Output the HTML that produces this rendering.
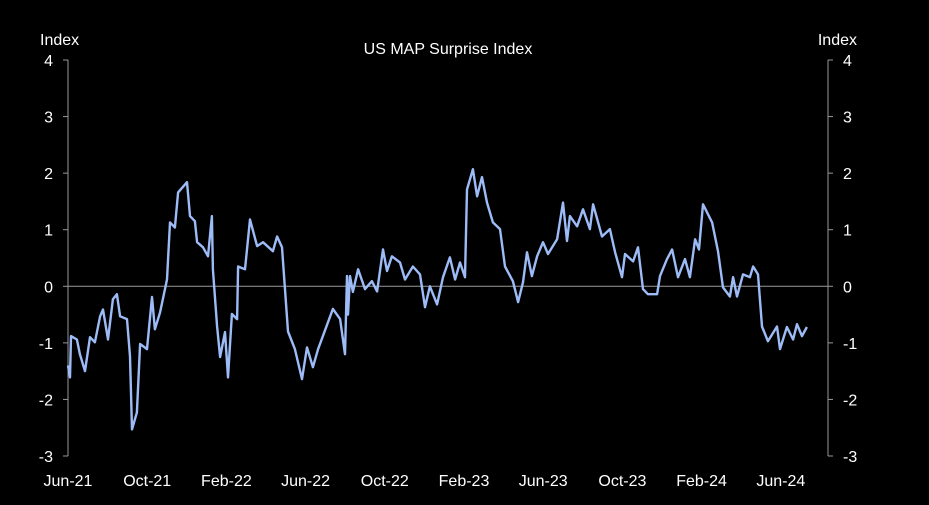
<!DOCTYPE html>
<html><head><meta charset="utf-8"><style>
body{margin:0;background:#000;width:929px;height:500px;overflow:hidden}
svg text{font-family:"Liberation Sans",sans-serif;fill:#fff;font-size:16px}
</style></head><body>
<svg id="c" width="929" height="500">
<text x="448" y="54" text-anchor="middle">US MAP Surprise Index</text>
<text x="40" y="45">Index</text>
<text x="857" y="45" text-anchor="end">Index</text>
<g id="axes"></g>
<path id="line" fill="none" stroke="#9dbcf7" stroke-width="2.4" stroke-linejoin="round"/>
</svg>
<script>
const yTicks=[4,3,2,1,0,-1,-2,-3];
const xLabels=["Jun-21","Oct-21","Feb-22","Jun-22","Oct-22","Feb-23","Jun-23","Oct-23","Feb-24","Jun-24"];
const months=[0,0.1,0.15,0.45,0.6,0.86,1.11,1.36,1.62,1.77,2.02,2.27,2.47,2.63,2.98,3.13,3.23,3.48,3.64,3.99,4.24,4.39,4.65,5.0,5.15,5.4,5.56,6.01,6.16,6.41,6.52,6.82,7.07,7.27,7.32,7.53,7.68,7.93,8.08,8.28,8.54,8.59,8.94,9.19,9.55,9.85,10.35,10.56,10.81,11.11,11.46,11.82,12.07,12.37,12.63,13.38,13.74,13.99,14.09,14.14,14.24,14.39,14.65,15.0,15.35,15.61,15.91,16.11,16.36,16.77,17.02,17.42,17.78,18.03,18.28,18.64,18.94,19.29,19.55,19.8,20.05,20.15,20.45,20.66,20.91,21.16,21.46,21.82,22.07,22.47,22.73,22.98,23.18,23.43,23.69,23.99,24.24,24.7,24.85,25.0,25.2,25.35,25.71,26.01,26.36,26.52,26.97,27.37,27.63,27.98,28.13,28.54,28.79,29.04,29.29,29.75,29.9,30.25,30.51,30.81,31.16,31.41,31.67,31.87,32.07,32.53,32.83,33.08,33.43,33.59,33.79,34.09,34.44,34.6,34.85,35.05,35.35,35.81,35.96,36.31,36.62,36.82,37.07,37.32];
const values=[-1.4,-1.61,-0.88,-0.94,-1.2,-1.5,-0.9,-0.99,-0.53,-0.41,-0.94,-0.23,-0.14,-0.53,-0.58,-1.24,-2.53,-2.23,-1.02,-1.11,-0.19,-0.76,-0.46,0.12,1.13,1.04,1.66,1.84,1.24,1.15,0.78,0.69,0.53,1.24,0.3,-0.71,-1.25,-0.81,-1.61,-0.49,-0.58,0.35,0.3,1.18,0.71,0.78,0.62,0.88,0.69,-0.8,-1.11,-1.64,-1.08,-1.43,-1.11,-0.4,-0.58,-1.2,0.18,-0.5,0.18,-0.1,0.3,-0.05,0.09,-0.09,0.65,0.27,0.53,0.42,0.12,0.35,0.21,-0.37,0,-0.32,0.16,0.51,0.12,0.42,0.16,1.71,2.07,1.59,1.93,1.48,1.13,1.01,0.35,0.09,-0.28,0.07,0.6,0.18,0.53,0.78,0.57,0.83,1.15,1.48,0.8,1.24,1.06,1.36,1.01,1.45,0.88,1.01,0.6,0.16,0.57,0.44,0.69,-0.05,-0.14,-0.14,0.18,0.48,0.65,0.16,0.48,0.16,0.83,0.65,1.45,1.13,0.62,-0.02,-0.18,0.16,-0.18,0.21,0.16,0.35,0.21,-0.71,-0.97,-0.71,-1.11,-0.72,-0.94,-0.67,-0.88,-0.72];
const X0=68,X1=828,Y0=60,Y1=456;
const xs=m=>X0+m*19.8;
const ys=v=>Y0+(4-v)*(Y1-Y0)/7;
const ns="http://www.w3.org/2000/svg";
const ax=document.getElementById('axes');
function mk(t,a,txt){const e=document.createElementNS(ns,t);for(const k in a)e.setAttribute(k,a[k]);if(txt!==undefined)e.textContent=txt;ax.appendChild(e);return e;}
let e=mk('line',{x1:X0,x2:X0,y1:Y0,y2:Y1,stroke:'#999','stroke-width':1});


e=mk('line',{x1:X1,x2:X1,y1:Y0,y2:Y1,stroke:'#999','stroke-width':1});


e=mk('line',{x1:X0,x2:X1,y1:ys(0),y2:ys(0),stroke:'#999','stroke-width':1});


yTicks.forEach(v=>{const y=ys(v);
mk('line',{x1:X0-5,x2:X0,y1:y,y2:y,stroke:'#999'});
mk('line',{x1:X1,x2:X1+5,y1:y,y2:y,stroke:'#999'});
e=mk('text',{x:53,y:y+6,'text-anchor':'end'},String(v));


e=mk('text',{x:843,y:y+6},String(v));


});
xLabels.forEach((l,i)=>{
e=mk('text',{x:xs(i*4),y:486,'text-anchor':'middle'},l);


});
document.getElementById('line').setAttribute('d',months.map((m,i)=>(i?'L':'M')+xs(m).toFixed(1)+','+ys(values[i]).toFixed(1)).join(''));
</script>
</body></html>
